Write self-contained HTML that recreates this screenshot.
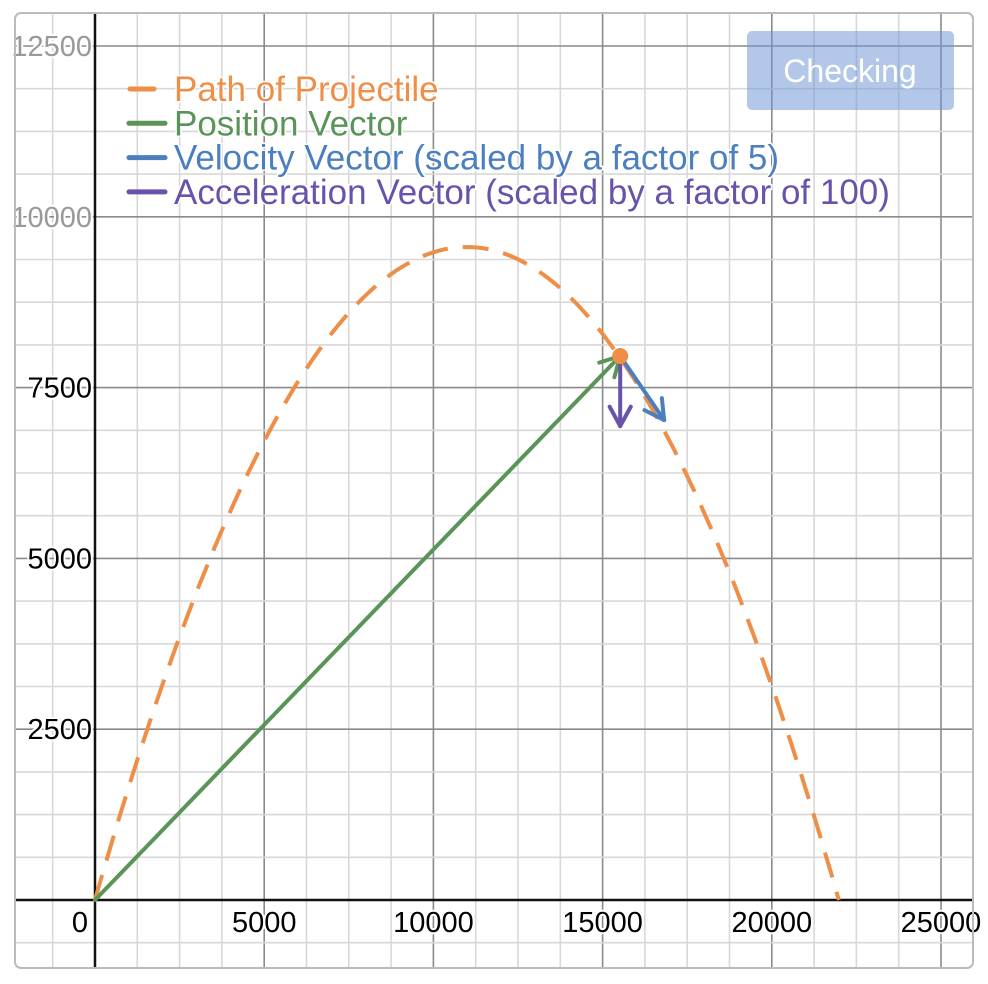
<!DOCTYPE html>
<html><head><meta charset="utf-8"><style>
html,body{margin:0;padding:0;background:#fff;}
svg{display:block;font-family:"Liberation Sans",sans-serif;}
</style></head><body>
<svg id="chart" width="988" height="984" viewBox="0 0 988 984" xmlns="http://www.w3.org/2000/svg">
<defs><clipPath id="frameClip"><rect x="15" y="13" width="958" height="955" rx="6"/></clipPath></defs>
<g id="grid" clip-path="url(#frameClip)"></g>
<g id="axes" clip-path="url(#frameClip)"></g>
<g id="series" clip-path="url(#frameClip)"></g>
<g id="labels"></g>
<rect x="15" y="13" width="958" height="955" rx="6" fill="none" stroke="#bbb" stroke-width="2"/>
<g id="legend"></g>
<g>
<rect x="747" y="31" width="207" height="79" rx="5" fill="rgba(110,150,212,0.52)"/>
<text x="850" y="82" text-anchor="middle" font-size="32" fill="#fff">Checking</text>
</g>
</svg>
<script>
const xTicks=[0,5000,10000,15000,20000,25000];
const yTicks=[2500,5000,7500,10000,12500];
const range=[21980];
const peakHeight=[9558];
const point=[15520,7962];
const velocity=[1298,-937];
const acceleration=[0,-1025];
const legendLabels=["Path of Projectile","Position Vector","Velocity Vector (scaled by a factor of 5)","Acceleration Vector (scaled by a factor of 100)"];
const legendColors=["#ee8e47","#5a9458","#4b7fbf","#6952a9"];

const NS="http://www.w3.org/2000/svg";
const X=v=>95+v*169.2/5000;
const Y=v=>900-v*170.8/2500;
function mk(parent,tag,attrs){const e=document.createElementNS(NS,tag);for(const k in attrs)e.setAttribute(k,attrs[k]);parent.appendChild(e);return e;}
const grid=document.getElementById('grid'),axes=document.getElementById('axes'),series=document.getElementById('series'),labels=document.getElementById('labels'),legend=document.getElementById('legend');

for(let v=-2500;v<=28750;v+=1250){
  const major=v%5000===0;
  const l=mk(grid,'line',{x1:X(v),x2:X(v),y1:0,y2:984,stroke:major?'#8a8a8a':'#d8d8d8','stroke-width':1.6});
  
  
}
for(let v=-1250;v<=13750;v+=625){
  const major=v%2500===0;
  const l=mk(grid,'line',{x1:0,x2:988,y1:Y(v),y2:Y(v),stroke:major?'#8a8a8a':'#d8d8d8','stroke-width':1.6});
  
  
}
const xa=mk(axes,'line',{x1:0,x2:988,y1:Y(0),y2:Y(0),stroke:'#111','stroke-width':2.5});


const ya=mk(axes,'line',{x1:X(0),x2:X(0),y1:0,y2:984,stroke:'#111','stroke-width':2.5});



xTicks.forEach(v=>{
  const t=mk(labels,'text',{x:v===0?X(v)-7:X(v),y:932,'text-anchor':v===0?'end':'middle','font-size':29,fill:'#000',stroke:'#fff','stroke-width':4,'paint-order':'stroke'});
  t.textContent=v;
  
  
});
yTicks.forEach(v=>{
  const t=mk(labels,'text',{x:X(0)-3,y:Y(v)+10,'text-anchor':'end','font-size':29,fill:v>=10000?'#999':'#000',stroke:'#fff','stroke-width':4,'paint-order':'stroke'});
  t.textContent=v;
  
  
});

const R=range[0],H=peakHeight[0];
let d='';
for(let i=0;i<=200;i++){const x=R*i/200;const y=4*H*x*(R-x)/(R*R);d+=(i?'L':'M')+X(x).toFixed(1)+' '+Y(y).toFixed(1);}
const path=mk(series,'path',{d:d,fill:'none',stroke:legendColors[0],'stroke-width':4,'stroke-dasharray':'26 15'});



function arrow(x0,y0,x1,y1,color,name){
  const g=mk(series,'g',{});
  
  
  const px0=X(x0),py0=Y(y0),px1=X(x1),py1=Y(y1);
  mk(g,'line',{x1:px0,y1:py0,x2:px1,y2:py1,stroke:color,'stroke-width':4,'stroke-linecap':'round'});
  const a=Math.atan2(py1-py0,px1-px0),L=22,s=0.5;
  [a+Math.PI-s,a+Math.PI+s].forEach(b=>mk(g,'line',{x1:px1,y1:py1,x2:px1+L*Math.cos(b),y2:py1+L*Math.sin(b),stroke:color,'stroke-width':4,'stroke-linecap':'round'}));
}
arrow(0,0,point[0],point[1],legendColors[1],'position-vector');
arrow(point[0],point[1],point[0]+velocity[0],point[1]+velocity[1],legendColors[2],'velocity-vector');
arrow(point[0],point[1],point[0]+acceleration[0],point[1]+acceleration[1],legendColors[3],'acceleration-vector');
const dot=mk(series,'circle',{cx:X(point[0]),cy:Y(point[1]),r:8,fill:legendColors[0]});



legendLabels.forEach((lab,i)=>{
  const g=mk(legend,'g',{});
  
  
  const y=89+i*34.3;
  mk(g,'line',{x1:i===0?130:129,x2:i===0?154:165,y1:y,y2:y,stroke:legendColors[i],'stroke-width':5,'stroke-linecap':'round'});
  const t=mk(g,'text',{x:174,y:y+12,'font-size':35,fill:legendColors[i],stroke:'#fff','stroke-width':3,'paint-order':'stroke'});
  t.textContent=lab;
});
</script>
</body></html>
